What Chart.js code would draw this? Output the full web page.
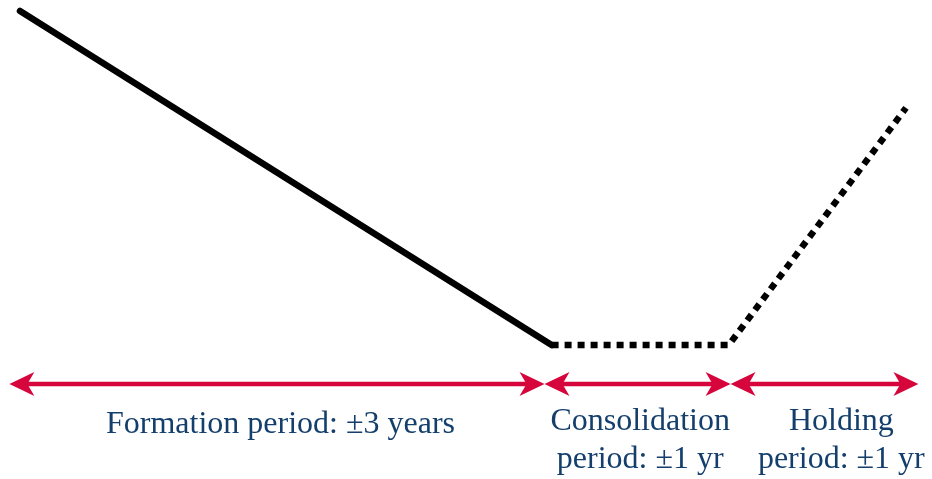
<!DOCTYPE html>
<html>
<head>
<meta charset="utf-8">
<script src="https://cdn.jsdelivr.net/npm/chart.js@4/dist/chart.umd.min.js"></script>
<style>
html,body{margin:0;padding:0;background:#fff;}
#wrap{width:932px;height:479px;}
</style>
</head>
<body>
<div id="wrap"><canvas id="c" width="932" height="479"></canvas></div>
<script>
// Time in years and relative performance level
const years = [0, 3, 4, 5];
const level = [1, 0, 0, 0.71];
// Period arrows (start/end in years) and their labels
const periodStart = [-0.06, 2.96, 4.01];
const periodEnd   = [2.96, 4.01, 5.07];
const periodLabels = [
  ['Formation period: \u00b13 years'],
  ['Consolidation', 'period: \u00b11 yr'],
  ['Holding', 'period: \u00b11 yr']
];
const labelCenter = [1.47, 3.5, 4.635];

const RED = '#d6063c';
const BLUE = '#143f6c';
const arrowY = -0.117;

function head(ctx, x, y, dir) {
  // stealth-like arrow head; dir = +1 points right, -1 points left
  ctx.beginPath();
  ctx.moveTo(x, y);
  ctx.lineTo(x - dir * 25, y - 12);
  ctx.lineTo(x - dir * 18, y);
  ctx.lineTo(x - dir * 25, y + 12);
  ctx.closePath();
  ctx.fill();
}

const periodsPlugin = {
  id: 'periods',
  afterDatasetsDraw(chart) {
    const ctx = chart.ctx, xs = chart.scales.x, ys = chart.scales.y;
    const py = ys.getPixelForValue(arrowY);
    ctx.save();
    ctx.strokeStyle = RED; ctx.fillStyle = RED; ctx.lineWidth = 4.5;
    for (let i = 0; i < periodStart.length; i++) {
      const a = xs.getPixelForValue(periodStart[i]);
      const b = xs.getPixelForValue(periodEnd[i]);
      ctx.beginPath(); ctx.moveTo(a + 10, py); ctx.lineTo(b - 10, py); ctx.stroke();
      head(ctx, a, py, -1);
      head(ctx, b, py, 1);
    }
    ctx.fillStyle = BLUE;
    ctx.font = '32px "Liberation Serif", "Times New Roman", serif';
    ctx.textAlign = 'center';
    ctx.textBaseline = 'alphabetic';
    for (let i = 0; i < periodLabels.length; i++) {
      const cx = xs.getPixelForValue(labelCenter[i]);
      const lines = periodLabels[i];
      const base = lines.length === 1 ? py + 49 : py + 46;
      lines.forEach((t, k) => ctx.fillText(t, cx, base + k * 38));
    }
    ctx.restore();
  }
};

new Chart(document.getElementById('c'), {
  type: 'line',
  data: {
    datasets: [{
      data: years.map((x, i) => ({x, y: level[i]})),
      borderColor: '#000',
      borderWidth: 6.5,
      pointRadius: 0,
      tension: 0,
      borderCapStyle: 'round',
      borderJoinStyle: 'miter',
      segment: {
        borderDash: c => c.p0DataIndex >= 1 ? [7, 6] : undefined,
        borderCapStyle: c => c.p0DataIndex >= 1 ? 'butt' : 'round'
      }
    }]
  },
  options: {
    responsive: false,
    animation: false,
    layout: {padding: 0},
    plugins: {legend: {display: false}, tooltip: {enabled: false}},
    scales: {
      x: {type: 'linear', display: false, min: -0.1129, max: 5.1467},
      y: {type: 'linear', display: false, min: -0.4012, max: 1.0329}
    }
  },
  plugins: [periodsPlugin]
});
</script>
</body>
</html>
